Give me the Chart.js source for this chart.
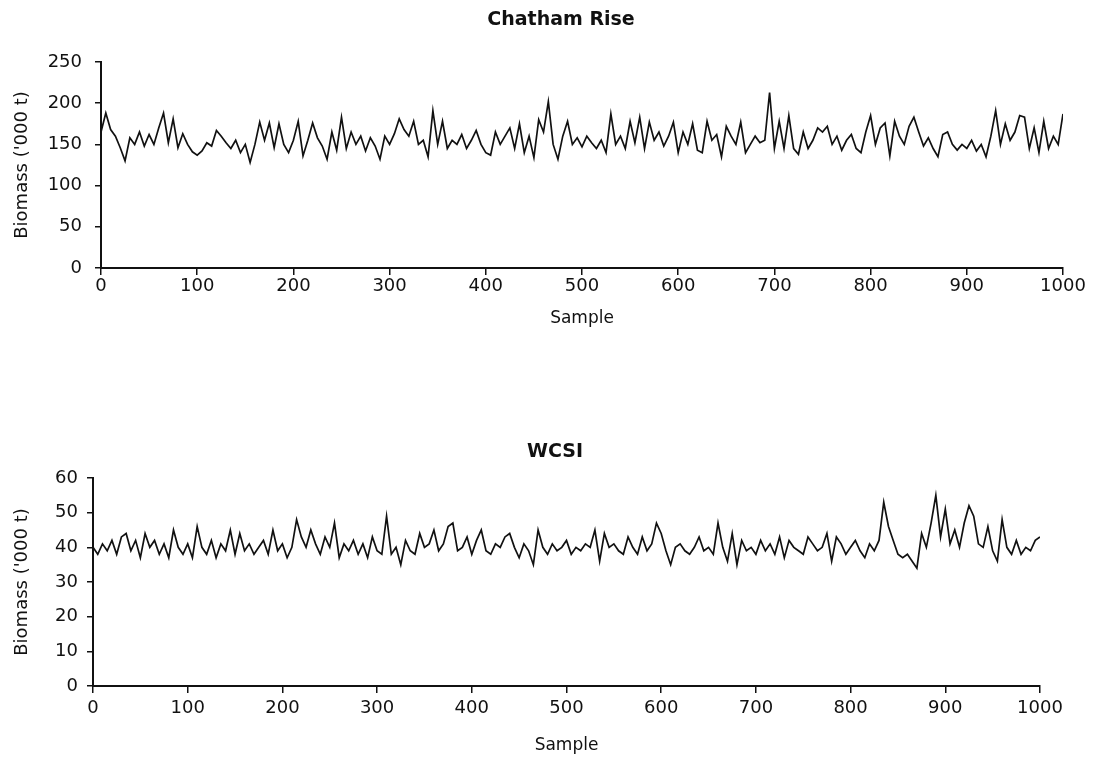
<!DOCTYPE html>
<html>
<head>
<meta charset="utf-8">
<script src="https://cdn.jsdelivr.net/npm/chart.js@4.4.1/dist/chart.umd.min.js"></script>
<style>
    html, body { margin: 0; padding: 0; background: #fff; overflow: hidden; }
    .plot { position: absolute; left: 0; }
    #topPlot { top: 0; }
    #bottomPlot { top: 385px; }
</style>
</head>
<body>
<div class="plot" id="topPlot"><canvas id="chathamChart" width="1095" height="385"></canvas></div>
<div class="plot" id="bottomPlot"><canvas id="wcsiChart" width="1095" height="386"></canvas></div>
<script>
// --- DADOS (uma leitura a cada 5 amostras) ---
const sampleStep = 5;
const xTicks = [0, 100, 200, 300, 400, 500, 600, 700, 800, 900, 1000];

// Chatham Rise, biomassa ('000 t)
const chathamRise = [
    165, 188, 168, 160, 146, 130, 158, 150, 165, 148,
    162, 150, 170, 188, 152, 181, 146, 163, 150, 141,
    137, 142, 152, 148, 167, 160, 152, 145, 155, 140,
    150, 128, 150, 177, 155, 176, 146, 175, 150, 140,
    155, 178, 136, 155, 176, 158, 148, 132, 165, 143,
    183, 145, 165, 150, 160, 142, 158, 148, 132, 160,
    150, 163, 181, 168, 160, 178, 150, 155, 135, 191,
    150, 178, 145, 155, 150, 162, 145, 155, 167, 150,
    140, 137, 165, 150, 160, 170, 145, 175, 140, 160,
    134, 180, 165, 202, 150, 132, 160, 178, 150, 158,
    147, 160, 152, 145, 155, 140, 187, 150, 160, 145,
    178, 152, 183, 145, 177, 155, 165, 148, 160, 177,
    140, 165, 150, 175, 143, 140, 178, 155, 162, 135,
    172, 160, 150, 177, 140, 150, 160, 152, 155, 213,
    145, 178, 145, 185, 145, 138, 165, 145, 155, 170,
    165, 172, 150, 160, 143, 155, 162, 145, 140, 165,
    185, 150, 170, 176, 136, 178, 160, 150, 172, 183,
    165, 148, 158, 145, 135, 162, 165, 150, 143, 150,
    145, 155, 142, 150, 135, 160, 191, 150, 175, 155,
    165, 185, 183, 145, 170, 140, 178, 145, 160, 150,
    187
];
const chathamYTicks = [0, 50, 100, 150, 200, 250];

// WCSI, biomassa ('000 t)
const wcsi = [
    40, 38, 41, 39, 42, 38, 43, 44, 39, 42,
    37, 44, 40, 42, 38, 41, 37, 45, 40, 38,
    41, 37, 46, 40, 38, 42, 37, 41, 39, 45,
    38, 44, 39, 41, 38, 40, 42, 38, 45, 39,
    41, 37, 40, 48, 43, 40, 45, 41, 38, 43,
    40, 47, 37, 41, 39, 42, 38, 41, 37, 43,
    39, 38, 49, 38, 40, 35, 42, 39, 38, 44,
    40, 41, 45, 39, 41, 46, 47, 39, 40, 43,
    38, 42, 45, 39, 38, 41, 40, 43, 44, 40,
    37, 41, 39, 35, 45, 40, 38, 41, 39, 40,
    42, 38, 40, 39, 41, 40, 45, 36, 44, 40,
    41, 39, 38, 43, 40, 38, 43, 39, 41, 47,
    44, 39, 35, 40, 41, 39, 38, 40, 43, 39,
    40, 38, 47, 40, 36, 44, 35, 42, 39, 40,
    38, 42, 39, 41, 38, 43, 37, 42, 40, 39,
    38, 43, 41, 39, 40, 44, 36, 43, 41, 38,
    40, 42, 39, 37, 41, 39, 42, 53, 46, 42,
    38, 37, 38, 36, 34, 44, 40, 47, 55, 43,
    51, 41, 45, 40, 47, 52, 49, 41, 40, 46,
    39, 36, 48, 40, 38, 42, 38, 40, 39, 42,
    43
];
const wcsiYTicks = [0, 10, 20, 30, 40, 50, 60];

const ink = '#111';
const fontFamily = '"DejaVu Sans", sans-serif';

// titulo de cada painel (desenhado sobre o canvas)
const plotTitle = {
    id: 'plotTitle',
    afterDraw(chart, args, opts) {
        const ctx = chart.ctx;
        ctx.save();
        ctx.font = 'bold 19px ' + fontFamily;
        ctx.fillStyle = ink;
        ctx.textAlign = 'center';
        ctx.textBaseline = 'middle';
        ctx.fillText(opts.text, opts.x, opts.y);
        ctx.restore();
    }
};

function toPoints(values) {
    return values.map((v, i) => ({ x: i * sampleStep, y: v }));
}

function buildChart(canvasId, cfg) {
    const ctx = document.getElementById(canvasId).getContext('2d');
    const yMax = cfg.yTicks[cfg.yTicks.length - 1];
    return new Chart(ctx, {
        type: 'line',
        data: {
            datasets: [{
                data: toPoints(cfg.values),
                borderColor: ink,
                borderWidth: 1.7,
                pointRadius: 0,
                tension: 0,
                fill: false
            }]
        },
        plugins: [plotTitle],
        options: {
            responsive: false,
            animation: false,
            layout: { padding: cfg.padding },
            plugins: {
                legend: { display: false },
                tooltip: { enabled: false },
                plotTitle: cfg.title
            },
            scales: {
                x: {
                    type: 'linear',
                    min: xTicks[0],
                    max: xTicks[xTicks.length - 1],
                    afterBuildTicks: s => { s.ticks = xTicks.map(v => ({ value: v })); },
                    afterFit: s => { s.height = cfg.xHeight; },
                    border: { color: ink, width: 2 },
                    grid: { drawOnChartArea: false, drawTicks: true, tickLength: 7, color: ink, lineWidth: 1.5 },
                    ticks: {
                        color: ink, font: { family: fontFamily, size: 18 },
                        padding: cfg.xTickPad, maxRotation: 0,
                        callback: v => String(v)
                    },
                    title: {
                        display: true, text: 'Sample', color: ink,
                        font: { family: fontFamily, size: 17 },
                        padding: { top: 0, bottom: cfg.xTitlePad }
                    }
                },
                y: {
                    min: 0,
                    max: yMax,
                    afterBuildTicks: s => { s.ticks = cfg.yTicks.map(v => ({ value: v })); },
                    afterFit: s => { s.width = cfg.yWidth; },
                    border: { color: ink, width: 2 },
                    grid: { drawOnChartArea: false, drawTicks: true, tickLength: 6, color: ink, lineWidth: 1.5 },
                    ticks: {
                        color: ink, font: { family: fontFamily, size: 18 },
                        padding: cfg.yTickPad,
                        callback: v => String(v)
                    },
                    title: {
                        display: true, text: "Biomass ('000 t)", color: ink,
                        font: { family: fontFamily, size: 18 },
                        padding: { top: 12, bottom: 0 }
                    }
                }
            }
        }
    });
}

buildChart('chathamChart', {
    values: chathamRise,
    yTicks: chathamYTicks,
    title: { text: 'Chatham Rise', x: 561, y: 20 },
    padding: { left: 0, right: 32, top: 62, bottom: 47 },
    xHeight: 70,
    yWidth: 101,
    yTickPad: 13,
    xTickPad: 1,
    xTitlePad: 9
});

buildChart('wcsiChart', {
    values: wcsi,
    yTicks: wcsiYTicks,
    title: { text: 'WCSI', x: 555, y: 67 },
    padding: { left: 0, right: 55, top: 93, bottom: 10 },
    xHeight: 75,
    yWidth: 93,
    yTickPad: 9,
    xTickPad: 5,
    xTitlePad: 5
});
</script>
</body>
</html>
